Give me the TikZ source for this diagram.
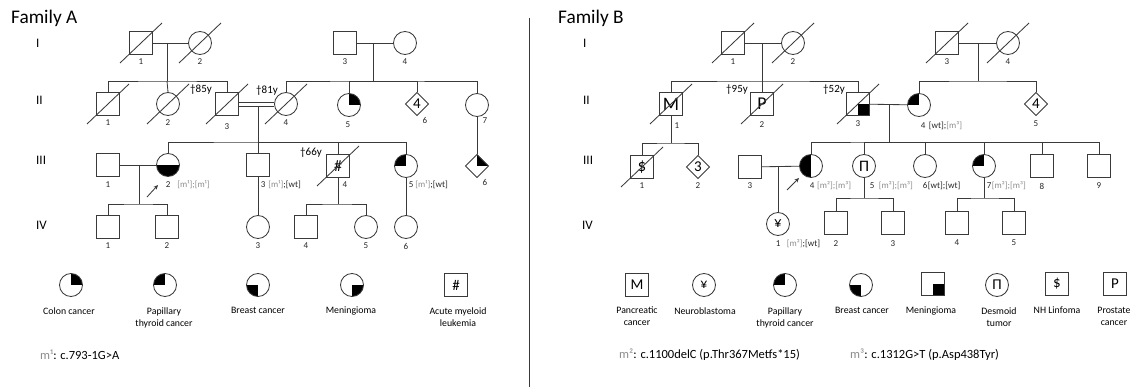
\documentclass[tikz,border=0pt]{standalone}
\usepackage{fontspec}
\setmainfont{Carlito}
\usetikzlibrary{shapes.geometric,arrows.meta}
\definecolor{ink}{HTML}{3A3A3A}
\definecolor{mutgray}{HTML}{8C8C8C}
\newcommand\mOne{{\color{mutgray}[m¹]}}
\newcommand\mTwo{{\color{mutgray}[m²]}}
\newcommand\mThree{{\color{mutgray}[m³]}}
\newcommand\gsemi{{\color{mutgray};}}
\newcommand\deceased[1]{\draw[link] (#1.center) ++(-21,20) -- ++(42,-40);}

\tikzset{
  link/.style={draw=ink, line width=0.85pt},
  person/.style={draw=ink, line width=0.85pt, fill=white, inner sep=0pt, text=black, font=\fontsize{17}{17}\selectfont},
  male/.style={person, rectangle, minimum size=23pt},
  female/.style={person, circle, minimum size=23pt},
  sexunk/.style={person, diamond, shape aspect=1, minimum size=23.5pt, font=\fontsize{15}{15}\selectfont},
  qTR/.style={path picture={\fill[black] (path picture bounding box.center) rectangle (path picture bounding box.north east);}},
  qTL/.style={path picture={\fill[black] (path picture bounding box.center) rectangle (path picture bounding box.north west);}},
  qBL/.style={path picture={\fill[black] (path picture bounding box.center) rectangle (path picture bounding box.south west);}},
  qBR/.style={path picture={\fill[black] (path picture bounding box.center) rectangle (path picture bounding box.south east);}},
  halfB/.style={path picture={\fill[black] (path picture bounding box.west) rectangle (path picture bounding box.south east);}},
  halfL/.style={path picture={\fill[black] (path picture bounding box.north west) rectangle (path picture bounding box.south);}},
  idx/.style={font=\fontsize{9}{10}\selectfont, inner sep=0pt, text=black!85},
  idxw/.style={idx, anchor=west},
  age/.style={font=\fontsize{11}{12}\selectfont, inner sep=0pt},
  gen/.style={font=\fontsize{13}{14}\selectfont, anchor=west, inner sep=0pt},
  famtitle/.style={font=\fontsize{19.3}{21}\selectfont, anchor=base west, inner sep=0pt},
  legtext/.style={font=\fontsize{9.8}{12}\selectfont, align=center, anchor=north, inner sep=0pt},
  mutation/.style={font=\fontsize{12.5}{15}\selectfont, anchor=west, inner sep=0pt},
  proband/.style={link, -{Stealth[length=4.5pt,width=4pt]}},
}

\begin{document}
\begin{tikzpicture}[x=1pt,y=-1pt]
\useasboundingbox (0,0) rectangle (1132,387);

% ---------------- headings and generation numerals ----------------
\node[famtitle] (titleA) at (11,24) {Family A};
\node[famtitle] (titleB) at (558,24) {Family B};
\node[gen] (gA1) at (36,43) {I};
\node[gen] (gA2) at (36,100) {II};
\node[gen] (gA3) at (36,160) {III};
\node[gen] (gA4) at (36,225) {IV};
\node[gen] (gB1) at (583,43) {I};
\node[gen] (gB2) at (583,100) {II};
\node[gen] (gB3) at (583,160) {III};
\node[gen] (gB4) at (582,225) {IV};

% separator between the two families
\draw[link] (529,18) -- (529,387);

% ================= Family A =================
\node[male] (A-I1) at (141,43) {};
\node[female] (A-I2) at (200,43) {};
\node[male] (A-I3) at (345,43) {};
\node[female] (A-I4) at (405,43) {};

\node[male] (A-II1) at (108,104) {};
\node[female] (A-II2) at (168,104) {};
\node[male] (A-II3) at (227,104) {};
\node[female] (A-II4) at (286,104) {};
\node[female,qTR] (A-II5) at (349,105) {};
\node[sexunk] (A-II6) at (417,104) {4};
\node[female] (A-II7) at (477,105) {};

\node[male] (A-III1) at (108,165) {};
\node[female,halfB] (A-III2) at (168,165) {};
\node[male] (A-III3) at (258,165) {};
\node[male,font=\fontsize{16}{16}\selectfont] (A-III4) at (338,166) {\#};
\node[female,qTL] (A-III5) at (406,166) {};
\node[sexunk,qTR] (A-III6) at (477,166) {};

\node[male] (A-IV1) at (108,227) {};
\node[male] (A-IV2) at (167,227) {};
\node[female] (A-IV3) at (258,227) {};
\node[male] (A-IV4) at (306,227) {};
\node[female] (A-IV5) at (366,227) {};
\node[female] (A-IV6) at (406,227) {};

% junctions
\coordinate (A-m1) at (167,43);
\coordinate (A-s1) at (167,81);
\coordinate (A-m2) at (373,43);
\coordinate (A-s2) at (373,81);
\coordinate (A-m3) at (258,106);
\coordinate (A-s3) at (258,142);
\coordinate (A-m4) at (139,165);
\coordinate (A-s4) at (139,204);
\coordinate (A-s5) at (338,204);

\draw[link] (A-I1) -- (A-I2);
\draw[link] (A-m1) -- (A-s1);
\draw[link] (A-II1.north) |- (A-s1) -| (A-II3.north);
\draw[link] (A-s1) -- (A-II2.north);

\draw[link] (A-I3) -- (A-I4);
\draw[link] (A-m2) -- (A-s2);
\draw[link] (A-II4.north) |- (A-s2) -| (A-II7.north);
\draw[link] (A-II5.north) |- (A-s2);
\draw[link] (A-II6.north) |- (A-s2);

\draw[link] ([yshift=2pt]A-II3.east) -- ([yshift=2pt]A-II4.west);
\draw[link] ([yshift=-2pt]A-II3.east) -- ([yshift=-2pt]A-II4.west);
\draw[link] (A-m3) -- (A-s3);
\draw[link] (A-III2.north) |- (A-s3) -| (A-III5.north);
\draw[link] (A-III3.north) -- (A-s3);
\draw[link] (A-III4.north) |- (A-s3);
\draw[link] (A-II7) -- (A-III6);

\draw[link] (A-III1) -- (A-III2);
\draw[link] (A-m4) -- (A-s4);
\draw[link] (A-IV1.north) |- (A-s4) -| (A-IV2.north);
\draw[link] (A-III3) -- (A-IV3);
\draw[link] (A-III4.south) -- (A-s5);
\draw[link] (A-IV4.north) |- (A-s5) -| (A-IV5.north);
\draw[link] (A-III5) -- (A-IV6);

\deceased{A-I1}
\deceased{A-I2}
\deceased{A-II1}
\deceased{A-II2}
\deceased{A-II3}
\deceased{A-II4}
\deceased{A-III4}

% proband
\coordinate (A-pa) at (147,197);
\coordinate (A-pb) at (158,185);
\draw[proband] (A-pa) -- (A-pb);

% labels
\node[idx] (lA-I1) at (141,62) {1};
\node[idx] (lA-I2) at (200,62) {2};
\node[idx] (lA-I3) at (345,62) {3};
\node[idx] (lA-I4) at (405,62) {4};
\node[idx] (lA-II1) at (108,123) {1};
\node[idx] (lA-II2) at (168,123) {2};
\node[idx] (lA-II3) at (227,127) {3};
\node[idx] (lA-II4) at (286,123) {4};
\node[idx] (lA-II5) at (348,125) {5};
\node[idx] (lA-II6) at (425,120) {6};
\node[idx] (lA-II7) at (485,121) {7};
\node[age] (aA-II3) at (201,90) {†85y};
\node[age] (aA-II4) at (267,91) {†81y};
\node[age] (aA-III4) at (311,153) {†66y};
\node[idx] (lA-III1) at (108,185) {1};
\node[idxw] (lA-III2) at (165.7,185) {2\hspace{7pt}\mOne\gsemi\mOne};
\node[idxw] (lA-III3) at (260.7,185) {3\hspace{3pt}\mOne;[wt]};
\node[idx] (lA-III4) at (345,185) {4};
\node[idxw] (lA-III5) at (408.7,185) {5\hspace{2pt}\mOne;[wt]};
\node[idx] (lA-III6) at (485,182) {6};
\node[idx] (lA-IV1) at (108,246) {1};
\node[idx] (lA-IV2) at (167,246) {2};
\node[idx] (lA-IV3) at (258,246) {3};
\node[idx] (lA-IV4) at (306,246) {4};
\node[idx] (lA-IV5) at (366,246) {5};
\node[idx] (lA-IV6) at (406,246) {6};

% legend
\node[female,qTR] (kA-colon) at (71,285) {};
\node[female,qTL] (kA-ptc) at (165,285) {};
\node[female,qBL] (kA-breast) at (258,285) {};
\node[female,qBR] (kA-men) at (352,285) {};
\node[male,font=\fontsize{15}{15}\selectfont] (kA-aml) at (456,285) {\#};
\node[legtext] (tA-colon) at (69,307) {Colon cancer};
\node[legtext] (tA-ptc) at (164,307) {Papillary\\thyroid cancer};
\node[legtext] (tA-breast) at (258,307) {Breast cancer};
\node[legtext] (tA-men) at (351,307) {Meningioma};
\node[legtext] (tA-aml) at (458,307) {Acute myeloid\\leukemia};
\node[mutation] (mutA) at (40,355) {{\color{mutgray}m¹}: c.793-1G>A};

% ================= Family B =================
\node[male] (B-I1) at (733,43) {};
\node[female] (B-I2) at (793,43) {};
\node[male] (B-I3) at (947,43) {};
\node[female] (B-I4) at (1008,43) {};

\node[male,font=\fontsize{19}{19}\selectfont] (B-II1) at (671,104) {M};
\node[male,font=\fontsize{18}{18}\selectfont] (B-II2) at (762,104) {P};
\node[male,qBR] (B-II3) at (858,104) {};
\node[female,qTL] (B-II4) at (919,105) {};
\node[sexunk] (B-II5) at (1036,104) {4};

\node[male] (B-III1) at (642,167) {\$};
\node[sexunk] (B-III2) at (698,167) {3};
\node[male] (B-III3) at (750,167) {};
\node[female,halfL] (B-III4) at (811,166) {};
\node[female,font=\fontsize{16}{16}\selectfont] (B-III5) at (864,166) {Π};
\node[female] (B-III6) at (925,166) {};
\node[female,qTL] (B-III7) at (984,166) {};
\node[male] (B-III8) at (1042,166) {};
\node[male] (B-III9) at (1099,166) {};

\node[female,font=\fontsize{15}{15}\selectfont] (B-IV1) at (778,224) {¥};
\node[male] (B-IV2) at (836,223) {};
\node[male] (B-IV3) at (893,223) {};
\node[male] (B-IV4) at (957,223) {};
\node[male] (B-IV5) at (1014,223) {};

% junctions
\coordinate (B-m1) at (762,43);
\coordinate (B-s1) at (762,81);
\coordinate (B-m2) at (978,43);
\coordinate (B-s2) at (978,81);
\coordinate (B-s3) at (671,143);
\coordinate (B-m4) at (889,104);
\coordinate (B-s4) at (889,142);
\coordinate (B-m5) at (778,166);
\coordinate (B-s5) at (864,198);
\coordinate (B-s6) at (984,198);

\draw[link] (B-I1) -- (B-I2);
\draw[link] (B-m1) -- (B-s1);
\draw[link] (B-II1.north) |- (B-s1) -| (B-II3.north);
\draw[link] (B-s1) -- (B-II2.north);

\draw[link] (B-I3) -- (B-I4);
\draw[link] (B-m2) -- (B-s2);
\draw[link] (B-II4.north) |- (B-s2) -| (B-II5.north);

\draw[link] (B-II1.south) -- (B-s3);
\draw[link] (B-III1.north) |- (B-s3) -| (B-III2.north);

\draw[link] (B-II3) -- (B-II4);
\draw[link] (B-m4) -- (B-s4);
\draw[link] (B-III4.north) |- (B-s4) -| (B-III9.north);
\draw[link] (B-III5.north) |- (B-s4);
\draw[link] (B-III6.north) |- (B-s4);
\draw[link] (B-III7.north) |- (B-s4);
\draw[link] (B-III8.north) |- (B-s4);

\draw[link] (B-III3) -- (B-III4);
\draw[link] (B-m5) -- (B-IV1.north);
\draw[link] (B-III5.south) -- (B-s5);
\draw[link] (B-IV2.north) |- (B-s5) -| (B-IV3.north);
\draw[link] (B-III7.south) -- (B-s6);
\draw[link] (B-IV4.north) |- (B-s6) -| (B-IV5.north);

\deceased{B-I1}
\deceased{B-I2}
\deceased{B-I3}
\deceased{B-I4}
\deceased{B-II1}
\deceased{B-II2}
\deceased{B-II3}
\deceased{B-III1}

% proband
\coordinate (B-pa) at (787,190);
\coordinate (B-pb) at (799,178);
\draw[proband] (B-pa) -- (B-pb);

% labels
\node[idx] (lB-I1) at (733,62) {1};
\node[idx] (lB-I2) at (793,62) {2};
\node[idx] (lB-I3) at (947,62) {3};
\node[idx] (lB-I4) at (1008,62) {4};
\node[idx] (lB-II1) at (677,126) {1};
\node[idx] (lB-II2) at (762,125) {2};
\node[idx] (lB-II3) at (858,124) {3};
\node[idxw] (lB-II4) at (920.7,126) {4\hspace{3.5pt}[wt];\mThree};
\node[idx] (lB-II5) at (1036,124) {5};
\node[age] (aB-II2) at (737,90) {†95y};
\node[age] (aB-II3) at (834,90) {†52y};
\node[idx] (lB-III1) at (642,186) {1};
\node[idx] (lB-III2) at (698,186) {2};
\node[idx] (lB-III3) at (750,186) {3};
\node[idxw] (lB-III4) at (809.7,186) {4\hspace{2.7pt}\mTwo\gsemi\mThree};
\node[idxw] (lB-III5) at (869.7,186) {5\hspace{4.5pt}\mTwo\gsemi\mThree};
\node[idxw] (lB-III6) at (922.7,186) {6\hspace{0.5pt}[wt];[wt]};
\node[idxw] (lB-III7) at (986.7,186) {7\hspace{0.5pt}\mTwo\gsemi\mThree};
\node[idx] (lB-III8) at (1042,186) {8};
\node[idx] (lB-III9) at (1099,186) {9};
\node[idxw] (lB-IV1) at (775.7,244) {1\hspace{6.5pt}\mTwo;[wt]};
\node[idx] (lB-IV2) at (836,244) {2};
\node[idx] (lB-IV3) at (893,244) {3};
\node[idx] (lB-IV4) at (957,243) {4};
\node[idx] (lB-IV5) at (1014,243) {5};

% legend
\node[male,font=\fontsize{15}{15}\selectfont] (kB-pan) at (637,285) {M};
\node[female,font=\fontsize{14}{14}\selectfont] (kB-nb) at (704,285) {¥};
\node[female,qTL] (kB-ptc) at (785,285) {};
\node[female,qBL] (kB-breast) at (861,285) {};
\node[male,qBR] (kB-men) at (933,284) {};
\node[female,font=\fontsize{15}{15}\selectfont] (kB-des) at (997,285) {Π};
\node[male,font=\fontsize{15}{15}\selectfont] (kB-nhl) at (1057,284) {\$};
\node[male,font=\fontsize{15}{15}\selectfont] (kB-pro) at (1115,284) {P};
\node[legtext] (tB-pan) at (637,307) {Pancreatic\\cancer};
\node[legtext] (tB-nb) at (705,307) {Neuroblastoma};
\node[legtext] (tB-ptc) at (785,307) {Papillary\\thyroid cancer};
\node[legtext] (tB-breast) at (862,307) {Breast cancer};
\node[legtext] (tB-men) at (931,307) {Meningioma};
\node[legtext] (tB-des) at (999,307) {Desmoid\\tumor};
\node[legtext] (tB-nhl) at (1057,307) {NH Linfoma};
\node[legtext] (tB-pro) at (1114,307) {Prostate\\cancer};
\node[mutation] (mutB2) at (619,355) {{\color{mutgray}m²}: c.1100delC (p.Thr367Metfs*15)};
\node[mutation] (mutB3) at (850,355) {{\color{mutgray}m³}: c.1312G>T (p.Asp438Tyr)};
\end{tikzpicture}
\end{document}
